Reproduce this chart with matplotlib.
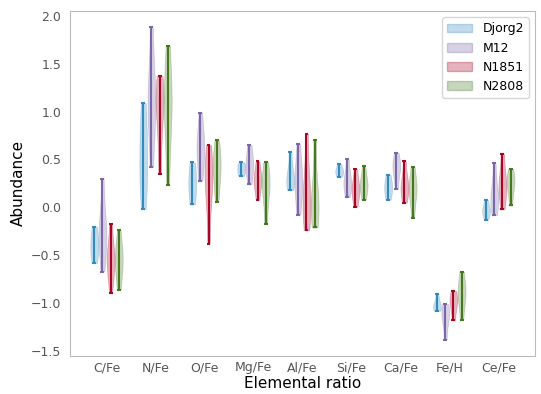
import numpy as np
import matplotlib
matplotlib.use('Agg')
import matplotlib.pyplot as plt
from matplotlib.patches import Patch

# Element ratios on the x axis
ratios = ['C/Fe', 'N/Fe', 'O/Fe', 'Mg/Fe', 'Al/Fe', 'Si/Fe', 'Ca/Fe', 'Fe/H', 'Ce/Fe']

# Abundance samples per cluster, one list per ratio
djorg2 = [
    [-0.20, -0.27, -0.33, -0.40, -0.46, -0.52, -0.58],
    [1.09, 0.90, 0.70, 0.50, 0.35, 0.20, -0.02],
    [0.47, 0.35, 0.25, 0.15, 0.03],
    [0.47, 0.44, 0.40, 0.36, 0.33],
    [0.58, 0.35, 0.30, 0.25, 0.18],
    [0.45, 0.40, 0.38, 0.35, 0.32],
    [0.34, 0.26, 0.21, 0.15, 0.08],
    [-0.90, -1.00, -1.03, -1.05, -1.08],
    [0.08, -0.01, -0.03, -0.06, -0.13],
]
m12 = [
    [0.30, -0.05, -0.20, -0.30, -0.35, -0.45, -0.67],
    [1.88, 1.30, 1.15, 1.05, 0.90, 0.42],
    [0.99, 0.75, 0.65, 0.60, 0.45, 0.28],
    [0.65, 0.50, 0.45, 0.38, 0.24],
    [0.66, 0.35, 0.28, 0.20, -0.075],
    [0.50, 0.30, 0.26, 0.22, 0.11],
    [0.57, 0.45, 0.42, 0.38, 0.19],
    [-1.01, -1.08, -1.12, -1.18, -1.38],
    [0.46, 0.15, 0.12, 0.05, -0.08],
]
n1851 = [
    [-0.17, -0.40, -0.50, -0.55, -0.60, -0.70, -0.89],
    [1.37, 1.20, 1.15, 1.05, 0.80, 0.35],
    [0.65, 0.45, 0.35, 0.25, 0.10, -0.38],
    [0.48, 0.32, 0.28, 0.25, 0.08],
    [0.77, 0.20, 0.08, 0.00, -0.24],
    [0.40, 0.22, 0.19, 0.15, 0.007],
    [0.48, 0.25, 0.22, 0.18, 0.05],
    [-0.87, -0.95, -0.98, -1.03, -1.18],
    [0.56, 0.28, 0.22, 0.18, -0.02],
]
n2808 = [
    [-0.24, -0.40, -0.48, -0.55, -0.62, -0.72, -0.86],
    [1.69, 1.30, 1.15, 1.00, 0.80, 0.23],
    [0.70, 0.55, 0.45, 0.40, 0.25, 0.06],
    [0.47, 0.28, 0.22, 0.18, -0.17],
    [0.70, 0.10, 0.05, 0.00, -0.21],
    [0.43, 0.27, 0.24, 0.20, 0.08],
    [0.42, 0.22, 0.19, 0.15, -0.11],
    [-0.67, -0.85, -0.89, -0.95, -1.18],
    [0.40, 0.30, 0.26, 0.20, 0.02],
]

clusters = ['Djorg2', 'M12', 'N1851', 'N2808']
colors = ['#348ABD', '#7A68A6', '#A60628', '#467821']
offsets = [-0.25, -0.083, 0.083, 0.25]

fig = plt.figure(figsize=(5.41, 3.94), dpi=100)
ax = fig.add_axes([0.129, 0.097, 0.86, 0.875])

x = np.arange(len(ratios))
for data, col, off in zip([djorg2, m12, n1851, n2808], colors, offsets):
    parts = ax.violinplot(data, positions=x + off, widths=0.16)
    for body in parts['bodies']:
        body.set_facecolor(col)
        body.set_edgecolor(col)
        body.set_alpha(0.3)
        body.set_linewidth(0.5)
    for key in ['cbars', 'cmins', 'cmaxes']:
        parts[key].set_color(col)
        parts[key].set_linewidth(1.5)

ax.set_xticks(x)
ax.set_xticklabels(ratios)
ax.set_xlim(-0.75, 8.75)
ax.set_ylim(-1.55, 2.05)
ax.set_yticks(np.arange(-1.5, 2.01, 0.5))
ax.tick_params(axis='x', length=0, labelsize=9, labelcolor='#555555', pad=4)
ax.tick_params(axis='y', length=0, labelsize=9, labelcolor='#555555', pad=6)
for s in ax.spines.values():
    s.set_color('#bbbbbb')
ax.set_xlabel('Elemental ratio', fontsize=11, labelpad=1)
ax.set_ylabel('Abundance', fontsize=11)

handles = [Patch(facecolor=c, edgecolor=c, alpha=0.3) for c in colors]
ax.legend(handles, clusters, loc='upper right', fontsize=9)

fig.savefig('out.png', dpi=100)
